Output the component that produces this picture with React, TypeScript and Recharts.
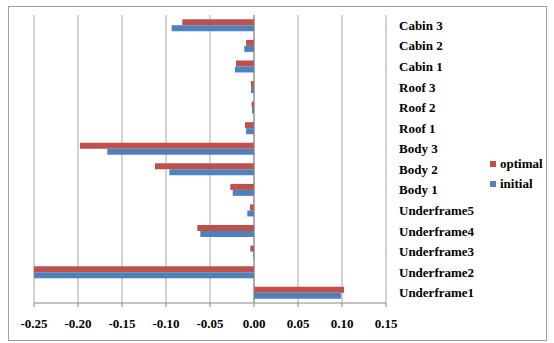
import { BarChart, Bar, XAxis, YAxis, CartesianGrid, Legend, ReferenceLine } from "recharts";

// categories top to bottom
const parts = [
  "Cabin 3",
  "Cabin 2",
  "Cabin 1",
  "Roof 3",
  "Roof 2",
  "Roof 1",
  "Body 3",
  "Body 2",
  "Body 1",
  "Underframe5",
  "Underframe4",
  "Underframe3",
  "Underframe2",
  "Underframe1",
];

const optimal = [-0.0815, -0.009, -0.0205, -0.0034, -0.0027, -0.0102, -0.1977, -0.1125, -0.0269, -0.0045, -0.0644, -0.0042, -0.25, 0.1023];
const initial = [-0.0936, -0.011, -0.0216, -0.0034, -0.0023, -0.009, -0.1667, -0.0962, -0.0242, -0.0076, -0.061, -0.001, -0.25, 0.0989];

const xTicks = [-0.25, -0.2, -0.15, -0.1, -0.05, 0, 0.05, 0.1, 0.15];

const FONT = '"Liberation Serif", "Times New Roman", serif';
const RED = "#C0504D";
const BLUE = "#4F81BD";

const rows = parts.map((name, i) => ({ name, optimal: optimal[i], initial: initial[i] }));

// legend: two small squares with labels
function LegendBox() {
  const items = [
    { label: "optimal", color: RED },
    { label: "initial", color: BLUE },
  ];
  return (
    <div style={{ fontFamily: FONT, fontWeight: "bold", fontSize: 13, lineHeight: "20px" }}>
      {items.map((it) => (
        <div key={it.label} style={{ display: "flex", alignItems: "center" }}>
          <span style={{ display: "inline-block", width: 6, height: 6, background: it.color, marginRight: 4 }} />
          <span>{it.label}</span>
        </div>
      ))}
    </div>
  );
}

export default function App() {
  return (
    <div style={{ position: "absolute", left: 0, top: 0, width: 554, height: 343, background: "#fff" }}>
      <div
        style={{
          position: "absolute",
          left: 8,
          top: 6,
          width: 537,
          height: 333,
          border: "1px solid #A0A0A0",
        }}
      />
      <BarChart
        width={554}
        height={343}
        data={rows}
        layout="vertical"
        margin={{ top: 15, right: 0, bottom: 0, left: 34 }}
        barCategoryGap="21%"
        barGap={0}
      >
        <CartesianGrid horizontal={false} stroke="#A6A6A6" />
        <XAxis
          type="number"
          domain={[-0.25, 0.15]}
          ticks={xTicks}
          height={40}
          interval={0}
          tickFormatter={(v: number) => v.toFixed(2)}
          axisLine={{ stroke: "#868686" }}
          tickLine={{ stroke: "#868686" }}
          tickSize={4}
          tickMargin={12}
          tick={{ fill: "#000", fontSize: 13, fontWeight: "bold", fontFamily: FONT }}
        />
        <YAxis
          type="category"
          dataKey="name"
          orientation="right"
          width={168}
          interval={0}
          axisLine={false}
          tickLine={false}
          tickSize={6}
          tickMargin={7}
          tick={{ fill: "#000", fontSize: 13, fontWeight: "bold", fontFamily: FONT }}
        />
        <ReferenceLine x={0} stroke="#868686" />
        <Legend
          layout="horizontal"
          align="center"
          verticalAlign="middle"
          content={() => <LegendBox />}
          wrapperStyle={{ left: 490, top: 154, width: "auto" }}
        />
        <Bar dataKey="optimal" fill={RED} isAnimationActive={false} />
        <Bar dataKey="initial" fill={BLUE} isAnimationActive={false} />
      </BarChart>
    </div>
  );
}
